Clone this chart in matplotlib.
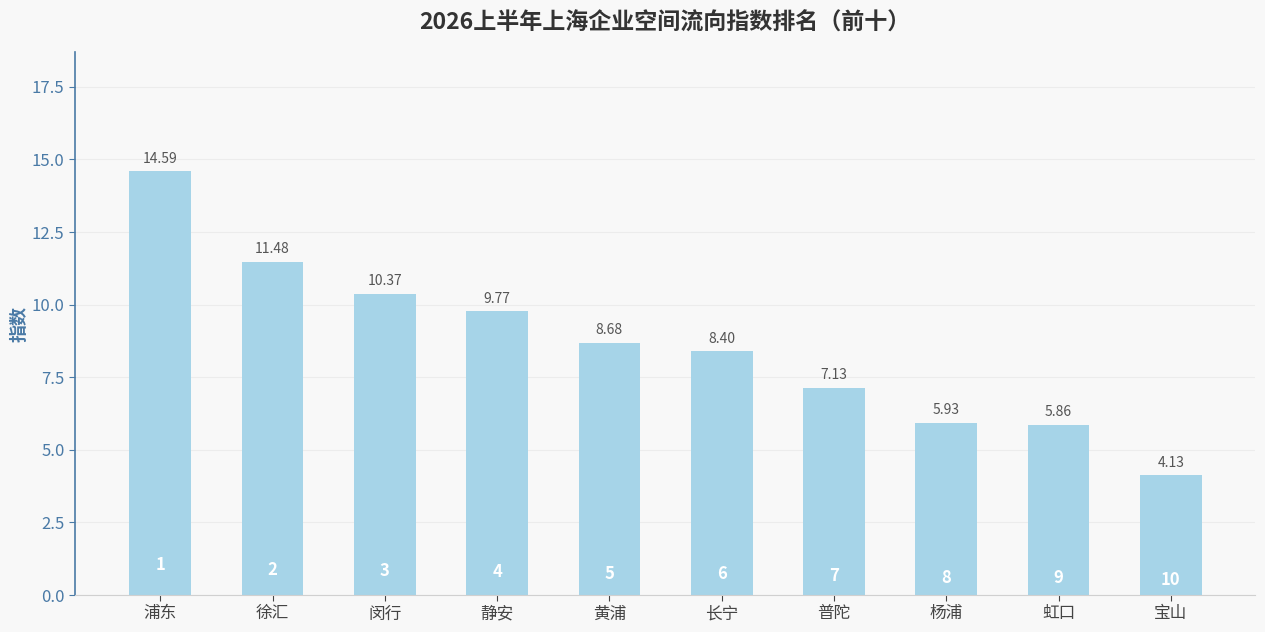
import matplotlib
matplotlib.use("Agg")
import matplotlib.pyplot as plt

plt.rcParams['font.family'] = ['Noto Sans CJK SC', 'DejaVu Sans']

# 数据
districts = ['浦东', '徐汇', '闵行', '静安', '黄浦', '长宁', '普陀', '杨浦', '虹口', '宝山']
values = [14.59, 11.48, 10.37, 9.77, 8.68, 8.40, 7.13, 5.93, 5.86, 4.13]
ranks = list(range(1, 11))

bg = '#f8f8f8'
bar_color = '#a6d4e8'
axis_blue = '#4a7aa6'

fig = plt.figure(figsize=(12.65, 6.32), dpi=100, facecolor=bg)
ax = fig.add_axes([75 / 1265, 1 - 595 / 632, 1180 / 1265, 543 / 632])
ax.set_facecolor(bg)

x = list(range(len(districts)))
ax.bar(x, values, width=0.55, color=bar_color, zorder=2)

# 数值标签和排名
for i, v in enumerate(values):
    ax.annotate(f"{v:.2f}", (i, v), xytext=(0, 4), textcoords='offset points',
                ha='center', va='bottom', fontsize=10, color='#555555')
    ax.text(i, 0.3 + 0.05 * v, str(ranks[i]), ha='center', va='center',
            fontsize=12, fontweight='bold', color='white', zorder=3)

ax.set_xlim(-0.76, 9.75)
ax.set_ylim(0, 18.7)
ax.set_yticks([0, 2.5, 5, 7.5, 10, 12.5, 15, 17.5])
ax.set_yticklabels([f"{t:.1f}" for t in [0, 2.5, 5, 7.5, 10, 12.5, 15, 17.5]])
ax.set_xticks(x)
ax.set_xticklabels(districts)

ax.tick_params(axis='y', colors=axis_blue, labelsize=12, length=4)
ax.tick_params(axis='x', colors='#444444', labelsize=12, length=4)
ax.grid(axis='y', color='#ececec', linewidth=0.8, zorder=0)
ax.set_axisbelow(True)

for s in ['top', 'right']:
    ax.spines[s].set_visible(False)
ax.spines['left'].set_color(axis_blue)
ax.spines['left'].set_linewidth(1.2)
ax.spines['bottom'].set_color('#d0d0d0')

ax.set_ylabel("指数", fontsize=13, fontweight='bold', color=axis_blue, labelpad=2)
ax.set_title("2026上半年上海企业空间流向指数排名（前十）", fontsize=16.6,
             fontweight='bold', color='#333333', pad=16)

plt.savefig("out.png", dpi=100, facecolor=bg)
